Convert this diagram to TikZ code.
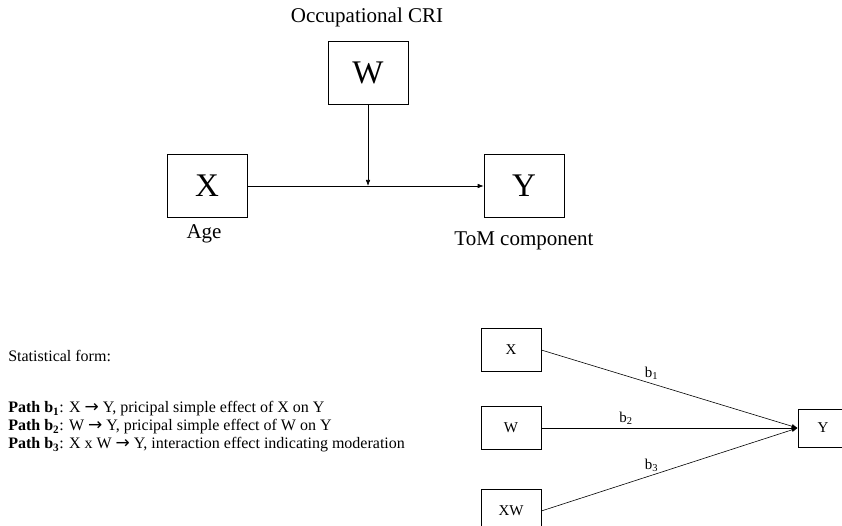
\documentclass[tikz,border=0pt]{standalone}
\usepackage{fontspec}
\setmainfont{Liberation Serif}
\newfontfamily\arrowfont{DejaVu Sans}
\usepackage{tikz}
\usetikzlibrary{arrows.meta}

\newcommand{\toarrow}{{\arrowfont\fontsize{17}{18}\selectfont →}}

\tikzset{
    bigbox/.style={draw, minimum width=80pt, minimum height=63pt, font=\fontsize{33}{35}\selectfont},
    smallbox/.style={draw, minimum width=60pt, minimum height=43pt, font=\fontsize{15}{17}\selectfont},
    bigtext/.style={font=\fontsize{21}{23}\selectfont},
    pathline/.style={anchor=west, inner sep=0pt, font=\fontsize{16}{18}\selectfont},
    blab/.style={above, font=\fontsize{15}{17}\selectfont},
}

\begin{document}
\begin{tikzpicture}[x=1pt, y=-1pt, >={Latex[length=6pt, width=4.5pt]}, line width=0.6pt]
    \useasboundingbox (0,0) rectangle (842,526);
    \clip (0,0) rectangle (842,526);
    % conceptual model
    \node[bigbox] (w) at (368,73) {W};
    \node[bigbox] (x) at (207,186) {X};
    \node[bigbox] (y) at (524,186) {Y};
    \node[bigtext] (wlab) at (367,17) {Occupational CRI};
    \node[bigtext] (xlab) at (204,234) {Age};
    \node[bigtext] (ylab) at (524,241) {ToM component};
    \coordinate (mid) at (w.south |- x.east);
    \draw[->] (x) -- (y);
    \draw[->] (w) -- (mid);
    % statistical model
    \node[pathline] (stat) at (8,356) {Statistical form:};
    \node[pathline] (p1) at (8,409) {\textbf{Path b\textsubscript{1}}: X \toarrow\ Y, pricipal simple effect of X on Y};
    \node[pathline] (p2) at (8,427) {\textbf{Path b\textsubscript{2}}: W \toarrow\ Y, pricipal simple effect of W on Y};
    \node[pathline] (p3) at (8,445) {\textbf{Path b\textsubscript{3}}: X x W \toarrow\ Y, interaction effect indicating moderation};
    \node[smallbox] (sx) at (511,350) {X};
    \node[smallbox] (sw) at (511,428) {W};
    \node[smallbox] (sxw) at (511,511) {XW};
    \node[smallbox, minimum width=62pt, minimum height=38pt] (sy) at (829,428) {};
    \node[font=\fontsize{15}{17}\selectfont] (sylab) at (823,428) {Y};
    \draw[->] (sx.east) -- node[blab, pos=0.43] {b\textsubscript{1}} (sy.west);
    \draw[->] (sw.east) -- node[blab, pos=0.33] {b\textsubscript{2}} (sy.west);
    \draw[->] (sxw.east) -- node[blab, pos=0.43] {b\textsubscript{3}} (sy.west);
\end{tikzpicture}
\end{document}
